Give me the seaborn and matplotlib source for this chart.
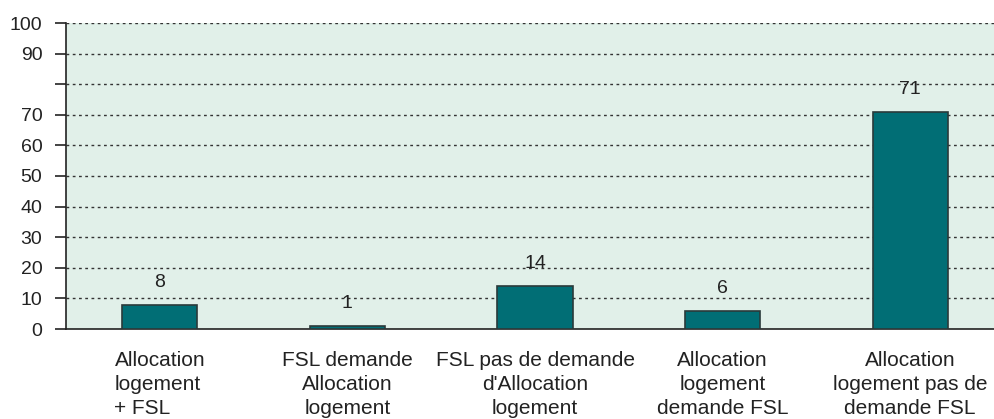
import pandas as pd
import numpy as np
import matplotlib.pyplot as plt
import seaborn as sns

categories = [
    "Allocation\nlogement\n+ FSL",
    "FSL demande\nAllocation\nlogement",
    "FSL pas de demande\nd'Allocation\nlogement",
    "Allocation\nlogement\ndemande FSL",
    "Allocation\nlogement pas de\ndemande FSL",
]
values = [8, 1, 14, 6, 71]
ytick_values = [0, 10, 20, 30, 40, 50, 60, 70, 80, 90, 100]
ytick_labels = ["0", "10", "20", "30", "40", "50", "60", "70", "", "90", "100"]

df = pd.DataFrame({"cat": categories, "val": values})

sns.set_style("white")
plt.rcParams["font.family"] = ["Liberation Sans", "DejaVu Sans"]

fig = plt.figure(figsize=(9.94, 4.19), dpi=100)
ax = fig.add_axes([66 / 994, 90 / 419, 938 / 994, 306 / 419])
ax.set_facecolor("#e1f0e9")

sns.barplot(
    data=df, x="cat", y="val", color="#016e75",
    width=0.4, edgecolor="#2a3a3a", linewidth=1.2,
    saturation=1, ax=ax, zorder=3
)

# value labels above the bars
for i, v in enumerate(values):
    ax.annotate(str(v), (i, v), xytext=(0, 10), textcoords="offset points",
                ha="center", va="bottom", fontsize=14, color="#222222", zorder=4)

ax.set_ylim(0, 100)
ax.set_xlim(-0.5, 4.5)
ax.set_yticks(ytick_values)
ax.set_yticklabels(ytick_labels, fontsize=14, color="#222222")

for y in ytick_values[1:]:
    ax.axhline(y, color="#333333", linewidth=1, linestyle=(0, (2, 2.5)), zorder=1)

ax.set_xticks(range(len(categories)))
ax.set_xticklabels(categories, fontsize=15, color="#222222", linespacing=1.34)
for lab, al in zip(ax.get_xticklabels(), ["left", "center", "center", "center", "center"]):
    lab.set_multialignment(al)
ax.set_xticks(np.arange(-0.5, 5, 1), minor=True)
ax.tick_params(axis="x", which="major", length=0, pad=16)
ax.tick_params(axis="x", which="minor", length=8, width=1.2, direction="out", color="#222222")
ax.tick_params(axis="y", length=8, width=1.2, direction="out", color="#222222", pad=9, left=True)

for s in ["top", "right"]:
    ax.spines[s].set_visible(False)
for s in ["left", "bottom"]:
    ax.spines[s].set_color("#222222")
    ax.spines[s].set_linewidth(1.2)

ax.set_xlabel("")
ax.set_ylabel("")

plt.savefig("out.png", dpi=100)
